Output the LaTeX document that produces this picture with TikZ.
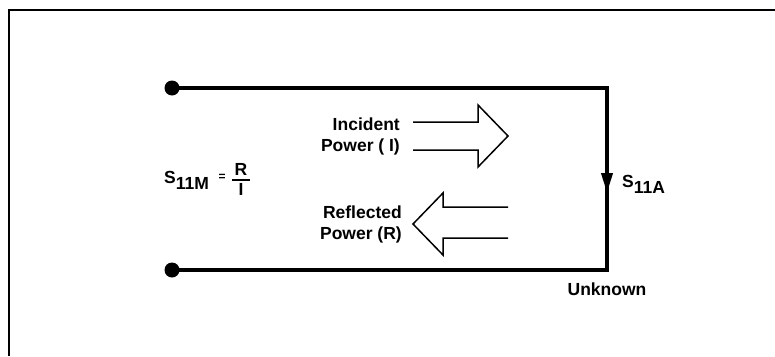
\documentclass[tikz,border=0pt]{standalone}
\usepackage{fontspec}
\setmainfont{Liberation Sans}
\usetikzlibrary{arrows.meta,decorations.markings}
\begin{document}
\begin{tikzpicture}[x=1pt,y=-1pt,every node/.style={font=\fontsize{17.5}{21}\selectfont\bfseries,inner sep=0pt}]
% Measurement line: incident and reflected power at the unknown
\useasboundingbox (0,0) rectangle (775,356);
\draw[line width=2pt] (9,356) -- (9,10) -- (775,10);
\node[circle,fill=black,minimum size=15pt] (tl) at (172,88) {};
\node[circle,fill=black,minimum size=15pt] (bl) at (172,270) {};
\coordinate (tr) at (607,88);
\coordinate (br) at (607,270);
\draw[line width=3.8pt,line join=miter,postaction={decorate},
  decoration={markings,mark=at position 540pt with {\arrow{Triangle[length=20pt,width=11pt]}}}]
  (tl.center) -- (tr) -- (br) -- (bl.center);
\draw[line width=1.5pt,line join=miter] (413,122) -- (478,122) -- (478,105) -- (508,136) -- (478,167) -- (478,150) -- (413,150);
\draw[line width=1.5pt,line join=miter] (508,207) -- (443,207) -- (443,193) -- (413,224) -- (443,255) -- (443,238) -- (508,238);
\node[align=right,anchor=east] (inc) at (400,136) {Incident\\Power ( I)};
\node[align=right,anchor=east] (refl) at (402,224) {Reflected\\Power (R)};
\node[anchor=base west] (smeas) at (164,183) {S\raisebox{-6pt}{11M}};
\node[font=\fontsize{12}{12}\selectfont\bfseries] (eq) at (222,177) {=};
\node[anchor=base] (num) at (241,175) {R};
\node[anchor=base] (den) at (241,195) {I};
\draw[line width=1.5pt] (232,180) -- (250,180);
\node[anchor=base west] (sact) at (622,187) {S\raisebox{-6pt}{11A}};
\node (unk) at (607,289) {Unknown};
\end{tikzpicture}
\end{document}
